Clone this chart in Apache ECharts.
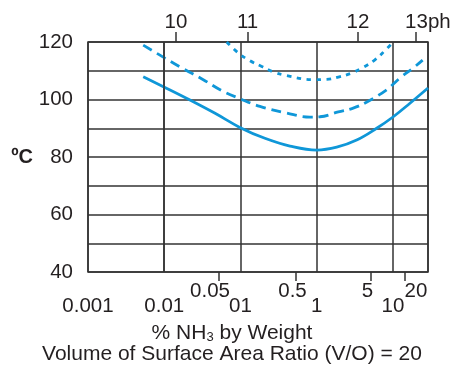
<!DOCTYPE html>
<html>
<head>
<meta charset="utf-8">
<script src="https://cdn.jsdelivr.net/npm/echarts@6/dist/echarts.min.js"></script>
<style>html,body{margin:0;padding:0;background:#fff}#c{width:456px;height:368px}</style>
</head>
<body>
<div id="c"></div>
<script>
// ---- data (x = % NH3 by weight, y = temperature in ºC) ----
var pctSolid   = [0.0053, 0.0102, 0.0218, 0.0464, 0.098, 0.209, 0.446, 1.0, 1.83, 3.34, 6.11, 10.1, 16.7, 28.8];
var tempSolid  = [107.9, 104.2, 99.8, 95.2, 90.3, 86.5, 83.8, 82.4, 83.4, 85.9, 90.0, 94.0, 98.7, 104.0];

var pctDashed  = [0.0053, 0.0102, 0.0178, 0.0325, 0.0566, 0.098, 0.180, 0.404, 0.815, 1.10, 1.92, 3.01, 4.74, 8.26, 12.4, 18.5, 24.5];
var tempDashed = [118.9, 114.4, 110.7, 106.9, 103.1, 100.3, 97.6, 95.3, 93.9, 94.0, 95.7, 97.0, 99.4, 103.4, 107.5, 111.0, 113.7];

var pctDotted  = [0.066, 0.0935, 0.133, 0.190, 0.269, 0.404, 0.90, 1.35, 1.92, 2.87, 4.07, 5.80, 7.85, 9.9];
var tempDotted = [120, 116.2, 113.5, 111.5, 109.6, 108.3, 106.9, 107.0, 107.8, 109.2, 111.2, 113.8, 117.0, 119.8];

// ---- axis ticks / labels ----
var decadeValues = [0.001, 0.01, 0.1, 1, 10];
var decadeLabels = ['0.001', '0.01', '01', '1', '10'];
var extraGridX   = 0.0054;

var upperTickValues  = [0.0522, 0.524, 5.14, 14.4];
var upperLabelValues = [0.0398, 0.481, 4.63, 20.0];
var upperLabels      = ['0.05', '0.5', '5', '20'];

var phValues = [0.01426, 0.124, 3.47, 20.0];
var phLabels = ['10', '11', '12', '13'];

var tempTicks = [40, 60, 80, 100, 120];

var X_MIN = 0.001, X_MAX = 28.8;

var FONT = '"Liberation Sans", Arial, Helvetica, sans-serif';
var TXT = '#231f20';
var GRIDC = '#333333';
var BLUE = '#0f97d8';

function nearestIdx(arr, v) {
  var best = -1, bd = 1e9;
  for (var i = 0; i < arr.length; i++) {
    var d = Math.abs(Math.log10(arr[i]) - Math.log10(v));
    if (d < bd) { bd = d; best = i; }
  }
  return bd < 0.02 ? best : -1;
}
function pairs(xs, ys) { return xs.map(function (x, i) { return [x, ys[i]]; }); }

var chart = echarts.init(document.getElementById('c'), null, {renderer: 'canvas'});
chart.setOption({
  animation: false,
  backgroundColor: '#fff',
  textStyle: {fontFamily: FONT},
  title: {
    text: '% NH{s|3} by Weight\nVolume of Surface Area Ratio (V/O) = 20',
    left: 232, top: 323, textAlign: 'center', padding: 0,
    textStyle: {
      fontFamily: FONT, fontSize: 21, fontWeight: 'normal', color: TXT, lineHeight: 21,
      rich: {s: {fontFamily: FONT, fontSize: 13, color: TXT, padding: [8, 0, 0, 0]}}
    }
  },
  grid: {left: 88, right: 28, top: 42, bottom: 96, show: true, borderColor: GRIDC, borderWidth: 1.5, containLabel: false},
  xAxis: [
    {
      type: 'log', logBase: 10, min: X_MIN, max: X_MAX, position: 'bottom',
      axisLine: {show: false}, axisTick: {show: false},
      splitLine: {show: true, lineStyle: {color: GRIDC, width: 1.5}},
      axisLabel: {
        margin: 24, fontSize: 20.5, color: TXT, fontFamily: FONT,
        formatter: function (v) { var i = nearestIdx(decadeValues, v); return i >= 0 ? decadeLabels[i] : ''; }
      }
    },
    {
      type: 'log', logBase: 10, min: X_MIN, max: X_MAX, position: 'bottom',
      axisLine: {show: false},
      axisTick: {show: true, customValues: upperTickValues, length: 9, lineStyle: {color: GRIDC, width: 1.5}},
      splitLine: {show: false},
      axisLabel: {
        customValues: upperLabelValues, margin: 8.5, fontSize: 20.5, color: TXT, fontFamily: FONT,
        formatter: function (v) { var i = nearestIdx(upperLabelValues, v); return i >= 0 ? upperLabels[i] : ''; }
      }
    },
    {
      type: 'log', logBase: 10, min: X_MIN, max: X_MAX, position: 'top',
      axisLine: {show: false},
      axisTick: {show: true, customValues: phValues, length: 10, lineStyle: {color: GRIDC, width: 1.5}},
      splitLine: {show: false},
      axisLabel: {
        customValues: phValues, margin: 9.5, fontSize: 20.5, color: TXT, fontFamily: FONT,
        formatter: function (v) {
          var i = nearestIdx(phValues, v);
          if (i < 0) return '';
          return i === phValues.length - 1 ? '{p|' + phLabels[i] + 'ph}' : phLabels[i];
        },
        rich: {p: {fontSize: 20.5, fontFamily: FONT, color: TXT, padding: [0, 0, 0, 24]}}
      }
    }
  ],
  yAxis: {
    type: 'value', min: 40, max: 120, interval: 10,
    name: 'ºC', nameLocation: 'middle', nameRotate: 0, nameGap: 55,
    nameTextStyle: {fontFamily: FONT, fontSize: 20, fontWeight: 'bold', color: TXT},
    axisLine: {show: false}, axisTick: {show: false},
    splitLine: {show: true, lineStyle: {color: GRIDC, width: 1.5}},
    axisLabel: {
      margin: 15, fontSize: 20.5, color: TXT, fontFamily: FONT,
      formatter: function (v) { return tempTicks.indexOf(v) >= 0 ? String(v) : ''; }
    }
  },
  series: [
    {
      type: 'line', xAxisIndex: 0, yAxisIndex: 0, data: pairs(pctSolid, tempSolid),
      smooth: 0.4, showSymbol: false, symbol: 'none', clip: true,
      lineStyle: {color: BLUE, width: 2.8, type: 'solid'},
      markLine: {
        silent: true, symbol: 'none', label: {show: false},
        lineStyle: {color: GRIDC, width: 1.5, type: 'solid'},
        data: [{xAxis: extraGridX}]
      },
      z: 3
    },
    {
      type: 'line', xAxisIndex: 0, yAxisIndex: 0, data: pairs(pctDashed, tempDashed),
      smooth: 0.4, showSymbol: false, symbol: 'none', clip: true,
      lineStyle: {color: BLUE, width: 2.8, type: [10, 6]}, z: 3
    },
    {
      type: 'line', xAxisIndex: 0, yAxisIndex: 0, data: pairs(pctDotted, tempDotted),
      smooth: 0.4, showSymbol: false, symbol: 'none', clip: true,
      lineStyle: {color: BLUE, width: 2.8, type: [4.5, 5.5]}, z: 3
    }
  ]
});
</script>
</body>
</html>
